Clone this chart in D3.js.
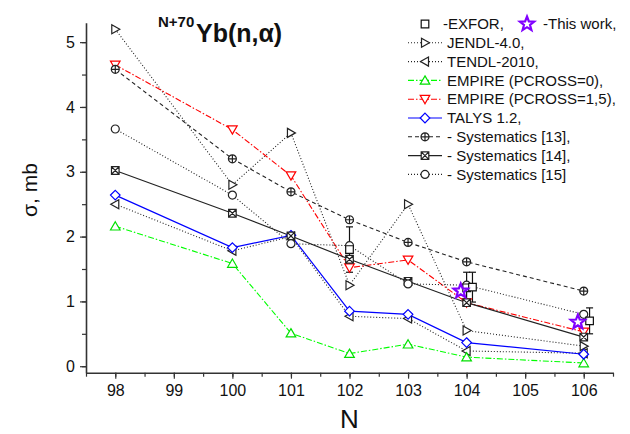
<!DOCTYPE html>
<html><head><meta charset="utf-8">
<script src="https://cdn.jsdelivr.net/npm/d3@7/dist/d3.min.js"></script>
<style>
body{margin:0;background:#fff;}
svg{display:block;font-family:"Liberation Sans",Arial,sans-serif;}
</style></head>
<body>
<svg id="chart" width="630" height="434"></svg>
<script>
// ---- data ----
const nValues = [98, 100, 101, 102, 103, 104, 106];
const xTickValues = [98, 99, 100, 101, 102, 103, 104, 105, 106];
const yTickValues = [0, 1, 2, 3, 4, 5];
const jendl = [5.2, 2.8, 3.6, 1.25, 2.5, 0.55, 0.31];
const tendl = [2.5, 1.78, 2.0, 0.77, 0.735, 0.235, 0.2];
const empire0 = [2.16, 1.585, 0.51, 0.195, 0.34, 0.14, 0.05];
const empire15 = [4.65, 3.65, 2.94, 1.52, 1.64, 0.98, 0.53];
const talys = [2.64, 1.83, 2.02, 0.85, 0.80, 0.365, 0.185];
const sys13 = [4.58, 3.2, 2.69, 2.26, 1.91, 1.61, 1.16];
const sys14 = [3.02, 2.36, 2.01, 1.65, 1.31, 0.98, 0.45];
const sys15 = [3.66, 2.64, 1.89, 1.86, 1.27, 1.25, 0.80];
const exforN = [102, 104, 104.1, 106.1];
const exforVal = [1.80, 1.21, 1.22, 0.70];
const exforErr = [0.35, 0.24, 0.23, 0.20];
const thisWorkN = [103.9, 105.9];
const thisWorkVal = [1.16, 0.68];

const series = [
  {name: "JENDL-4.0,", values: jendl, color: "#222", dash: "1,2", marker: "triR"},
  {name: "TENDL-2010,", values: tendl, color: "#222", dash: "1,2", marker: "triL"},
  {name: "EMPIRE (PCROSS=0),", values: empire0, color: "#00ff00", dash: "6,2,1.5,2", marker: "triU"},
  {name: "EMPIRE (PCROSS=1,5),", values: empire15, color: "#ff0000", dash: "6,2,1.5,2", marker: "triD"},
  {name: "TALYS 1.2,", values: talys, color: "#0000ff", dash: null, marker: "diamond"},
  {name: "- Systematics [13],", values: sys13, color: "#222", dash: "4,3", marker: "circPlus"},
  {name: "- Systematics [14],", values: sys14, color: "#222", dash: null, marker: "sqX"},
  {name: "- Systematics [15]", values: sys15, color: "#222", dash: "1,2", marker: "circ"}
];

const svg = d3.select("#chart");
const x = d3.scaleLinear().domain([97.5, 106.5]).range([86, 613]);
const y = d3.scaleLinear().domain([-0.1, 5.3]).range([372.7, 22.7]);

function markerPath(type) {
  switch (type) {
    case "triR": return "M-3.5,-4.5L4.5,0L-3.5,4.5Z";
    case "triL": return "M3.5,-4.5L-4.5,0L3.5,4.5Z";
    case "triU": return "M0,-4.5L4.8,3.8L-4.8,3.8Z";
    case "triD": return "M0,4.5L4.8,-3.8L-4.8,-3.8Z";
    case "diamond": return "M0,-4.8L4.8,0L0,4.8L-4.8,0Z";
    case "circ": return "M4,0A4,4 0 1 1 -4,0A4,4 0 1 1 4,0Z";
    case "circPlus": return "M4,0A4,4 0 1 1 -4,0A4,4 0 1 1 4,0ZM-4,0L4,0M0,-4L0,4";
    case "sqX": return "M-3.8,-3.8H3.8V3.8H-3.8ZM-3.8,-3.8L3.8,3.8M3.8,-3.8L-3.8,3.8";
    case "sq": return "M-3.8,-3.8H3.8V3.8H-3.8Z";
    case "star": {
      let p = [];
      for (let i = 0; i < 10; i++) {
        const r = i % 2 === 0 ? 7.5 : 3.2;
        const a = -Math.PI / 2 + i * Math.PI / 5;
        p.push([r * Math.cos(a), r * Math.sin(a)]);
      }
      return "M" + p.map(d => d[0].toFixed(2) + "," + d[1].toFixed(2)).join("L") + "Z";
    }
  }
}

// ---- axes ----
const axisColor = "#333";
const gx = svg.append("g").attr("transform", "translate(0,372.7)");
gx.call(d3.axisBottom(x).tickValues(d3.range(97.5, 106.6, 0.5)).tickSize(4).tickFormat(""));
gx.selectAll(".domain").remove();
gx.selectAll(".tick line").attr("stroke", axisColor).attr("stroke-width", 1.2);
const gx2 = svg.append("g").attr("transform", "translate(0,372.7)");
gx2.call(d3.axisBottom(x).tickValues(xTickValues).tickSize(6).tickSizeOuter(0).tickPadding(6).tickFormat(d3.format("d")));
gx2.selectAll(".domain").attr("stroke", axisColor).attr("stroke-width", 1.6);
gx2.selectAll(".tick line").attr("stroke", axisColor).attr("stroke-width", 1.2);
gx2.selectAll("text").attr("font-size", 16).attr("fill", "#111").attr("font-family", "Liberation Sans, Arial, sans-serif");

const gy = svg.append("g").attr("transform", "translate(86,0)");
gy.call(d3.axisLeft(y).tickValues(d3.range(0, 5.01, 0.5)).tickSize(4).tickFormat(""));
gy.selectAll(".domain").remove();
gy.selectAll(".tick line").attr("stroke", axisColor).attr("stroke-width", 1.2);
const gy2 = svg.append("g").attr("transform", "translate(86,0)");
gy2.call(d3.axisLeft(y).tickValues(yTickValues).tickSize(6).tickSizeOuter(0).tickPadding(5).tickFormat(d3.format("d")));
gy2.selectAll(".domain").attr("stroke", axisColor).attr("stroke-width", 1.6);
gy2.selectAll(".tick line").attr("stroke", axisColor).attr("stroke-width", 1.2);
gy2.selectAll("text").attr("font-size", 16).attr("fill", "#111").attr("font-family", "Liberation Sans, Arial, sans-serif");

// axis titles
svg.append("text").attr("x", x(102)).attr("y", 428).attr("text-anchor", "middle")
  .attr("font-size", 26).attr("fill", "#111").text("N");
svg.append("text").attr("transform", "translate(37,190) rotate(-90)").attr("text-anchor", "middle")
  .attr("font-size", 21).attr("fill", "#111").text("σ, mb");

// title
svg.append("text").attr("x", 158).attr("y", 27).attr("font-size", 15).attr("font-weight", "bold").attr("fill", "#111").text("N+70");
svg.append("text").attr("x", 196).attr("y", 42).attr("font-size", 25).attr("font-weight", "bold").attr("fill", "#111").text("Yb(n,α)");

// ---- lines ----
const line = d3.line().x(d => x(d[0])).y(d => y(d[1]));
series.forEach(s => {
  svg.append("path").datum(nValues.map((n, i) => [n, s.values[i]]))
    .attr("d", line).attr("fill", "none").attr("stroke", s.color)
    .attr("stroke-width", s.dash ? 1.1 : 1.2)
    .attr("stroke-dasharray", s.dash);
});

// error bars for EXFOR
exforN.forEach((n, i) => {
  const g = svg.append("g").attr("stroke", "#111").attr("stroke-width", 1.2);
  const top = y(exforVal[i] + exforErr[i]), bot = y(exforVal[i] - exforErr[i]);
  g.append("line").attr("x1", x(n)).attr("x2", x(n)).attr("y1", top).attr("y2", bot);
  g.append("line").attr("x1", x(n) - 3.5).attr("x2", x(n) + 3.5).attr("y1", top).attr("y2", top);
  g.append("line").attr("x1", x(n) - 3.5).attr("x2", x(n) + 3.5).attr("y1", bot).attr("y2", bot);
});

// ---- markers ----
series.forEach(s => {
  svg.append("g").selectAll("path").data(nValues.map((n, i) => [n, s.values[i]])).join("path")
    .attr("transform", d => `translate(${x(d[0])},${y(d[1])})`)
    .attr("d", markerPath(s.marker)).attr("fill", "#fff").attr("stroke", s.color === "#00ff00" ? "#00e000" : s.color)
    .attr("stroke-width", 1.2);
});
svg.append("g").selectAll("path").data(exforN.map((n, i) => [n, exforVal[i]])).join("path")
  .attr("transform", d => `translate(${x(d[0])},${y(d[1])})`)
  .attr("d", markerPath("sq")).attr("fill", "#fff").attr("stroke", "#111").attr("stroke-width", 1.2);
svg.append("g").selectAll("path").data(thisWorkN.map((n, i) => [n, thisWorkVal[i]])).join("path")
  .attr("transform", d => `translate(${x(d[0])},${y(d[1])})`)
  .attr("d", markerPath("star")).attr("fill", "none").attr("stroke", "#8000ff").attr("stroke-width", 2.2)
  .attr("stroke-linejoin", "miter");

// ---- legend ----
const legend = svg.append("g");
const lx = 425, rowH = 18.8, y0 = 24;
legend.append("path").attr("transform", `translate(${lx},${y0})`).attr("d", markerPath("sq"))
  .attr("fill", "#fff").attr("stroke", "#111").attr("stroke-width", 1.2);
legend.append("text").attr("x", 443).attr("y", y0).attr("dy", "0.35em").attr("font-size", 15).attr("fill", "#111").text("-EXFOR,");
legend.append("path").attr("transform", `translate(527,${y0})`).attr("d", markerPath("star"))
  .attr("fill", "none").attr("stroke", "#8000ff").attr("stroke-width", 2.2);
legend.append("text").attr("x", 543).attr("y", y0).attr("dy", "0.35em").attr("font-size", 15).attr("fill", "#111").text("-This work,");
series.forEach((s, i) => {
  const yy = y0 + rowH * (i + 1);
  legend.append("line").attr("x1", lx - 17).attr("x2", lx + 17).attr("y1", yy).attr("y2", yy)
    .attr("stroke", s.color).attr("stroke-width", 1.1).attr("stroke-dasharray", s.dash);
  legend.append("path").attr("transform", `translate(${lx},${yy})`).attr("d", markerPath(s.marker))
    .attr("fill", "#fff").attr("stroke", s.color === "#00ff00" ? "#00e000" : s.color).attr("stroke-width", 1.2);
  legend.append("text").attr("x", 447).attr("y", yy).attr("dy", "0.35em").attr("font-size", 15).attr("fill", "#111").text(s.name);
});
</script>
</body></html>
